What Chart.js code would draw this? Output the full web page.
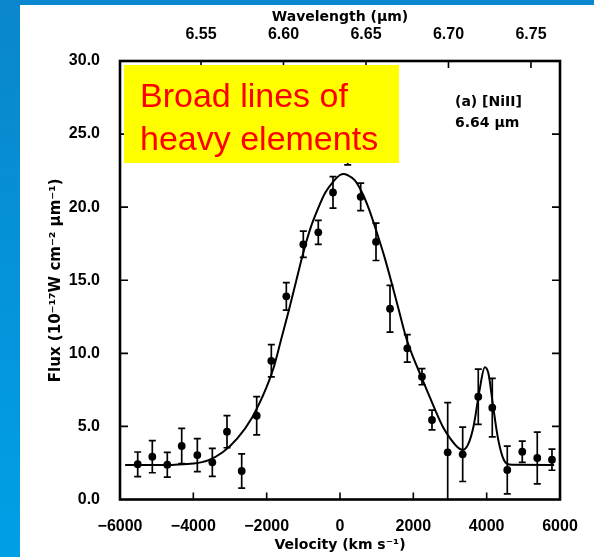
<!DOCTYPE html>
<html>
<head>
<meta charset="utf-8">
<script src="https://cdn.jsdelivr.net/npm/chart.js@4.4.1/dist/chart.umd.min.js"></script>
<style>
  html, body { margin: 0; padding: 0; background: #ffffff; }
  #chart { display: block; }
</style>
</head>
<body>
<canvas id="chart" width="594" height="557"></canvas>
<script>
// measured points: velocity (km/s), flux (1e-17 W cm-2 um-1), 1-sigma error
const velocity = [-5517, -5119, -4710, -4317, -3891, -3482, -3082, -2681, -2272, -1873,
                  -1464, -1001, -592, -191, 210, 564, 982, 1364, 1835, 2236,
                  2509, 2937, 3346, 3771, 4153, 4562, 4971, 5380, 5781];
const flux = [2.41, 2.93, 2.38, 3.66, 3.04, 2.54, 4.64, 1.95, 5.73, 9.49,
              13.90, 17.46, 18.28, 21.01, 24.0, 20.71, 17.63, 13.05, 10.34, 8.40,
              5.44, 3.23, 3.09, 7.03, 6.28, 2.02, 3.27, 2.84, 2.72];
const fluxErr = [0.84, 1.10, 0.85, 1.20, 1.13, 0.96, 1.10, 1.17, 1.31, 1.10,
                 0.94, 0.90, 0.82, 1.08, 1.10, 0.94, 1.28, 1.60, 0.94, 0.55,
                 0.68, 3.40, 1.86, 1.89, 2.00, 1.63, 0.73, 1.77, 0.72];

// fitted profile
const fitVelocity = [-5860, -5000, -4500, -4000, -3600, -3200, -2800, -2400, -2000, -1800,
                     -1600, -1400, -1200, -1000, -800, -600, -400, -200, 0, 100,
                     200, 400, 600, 800, 1000, 1200, 1400, 1600, 1800, 2000,
                     2200, 2400, 2600, 2800, 3000, 3200, 3350, 3500, 3650, 3800,
                     3950, 4050, 4175, 4300, 4430, 4550, 4700, 5840];
const fitFlux = [2.36, 2.36, 2.38, 2.46, 2.68, 3.23, 4.18, 5.6, 7.7, 9.1,
                 11.0, 12.9, 14.9, 16.9, 18.6, 19.9, 21.0, 21.7, 22.2, 22.27,
                 22.2, 21.85, 21.0, 19.8, 18.3, 16.7, 14.9, 13.0, 11.1, 9.7,
                 8.5, 7.3, 6.1, 5.0, 4.2, 3.6, 3.39, 3.8, 5.1, 7.4,
                 9.04, 8.6, 6.4, 4.3, 2.95, 2.45, 2.37, 2.36];

// axes
const velocityMin = -6000, velocityMax = 6000, velocityStep = 2000;
const fluxMin = 0, fluxMax = 30, fluxStep = 5;
const wavelengthMin = 6.5009, wavelengthMax = 6.7676;
const wavelengthTicks = [6.55, 6.60, 6.65, 6.70, 6.75];

const boxLines = ["Broad lines of", "heavy elements"];
const lineLabel = ["(a) [NiII]", "6.64 \u03bcm"];

const tickFont = { family: "'Liberation Sans', Arial, sans-serif", size: 16, weight: "bold" };
const titleFont = { family: "'DejaVu Sans', sans-serif", size: 14, weight: "bold" };

const background = {
    id: "background",
    beforeDraw(chart) {
        const ctx = chart.ctx;
        ctx.save();
        ctx.fillStyle = "#ffffff";
        ctx.fillRect(0, 0, chart.width, chart.height);
        ctx.fillStyle = "#0a87cf";
        ctx.fillRect(0, 0, chart.width, 5);
        const g = ctx.createLinearGradient(0, 0, 0, chart.height);
        g.addColorStop(0, "#0a86cc");
        g.addColorStop(1, "#00a0e6");
        ctx.fillStyle = g;
        ctx.fillRect(0, 0, 20, chart.height);
        ctx.restore();
    }
};

const errorBars = {
    id: "errorBars",
    beforeDatasetsDraw(chart) {
        const ctx = chart.ctx;
        const x = chart.scales.x, y = chart.scales.y;
        const a = chart.chartArea;
        ctx.save();
        ctx.beginPath();
        ctx.rect(a.left, a.top, a.right - a.left, a.bottom - a.top);
        ctx.clip();
        ctx.strokeStyle = "#000";
        ctx.lineWidth = 1.7;
        velocity.forEach((v, i) => {
            const px = x.getPixelForValue(v);
            const top = y.getPixelForValue(flux[i] + fluxErr[i]);
            const bot = y.getPixelForValue(flux[i] - fluxErr[i]);
            ctx.beginPath();
            ctx.moveTo(px, top); ctx.lineTo(px, bot);
            ctx.moveTo(px - 3.5, top); ctx.lineTo(px + 3.5, top);
            ctx.moveTo(px - 3.5, bot); ctx.lineTo(px + 3.5, bot);
            ctx.stroke();
        });
        ctx.restore();
    }
};

const frame = {
    id: "frame",
    afterDraw(chart) {
        const ctx = chart.ctx;
        const a = chart.chartArea;
        const x = chart.scales.x, x2 = chart.scales.x2, y = chart.scales.y;
        const len = 7;
        ctx.save();
        ctx.strokeStyle = "#000";
        ctx.lineWidth = 1.6;
        ctx.beginPath();
        x.ticks.forEach(t => {
            const p = x.getPixelForValue(t.value);
            if (t.value <= velocityMin || t.value >= velocityMax) return;
            ctx.moveTo(p, a.bottom); ctx.lineTo(p, a.bottom - len);
        });
        x2.ticks.forEach(t => {
            const p = x2.getPixelForValue(t.value);
            ctx.moveTo(p, a.top); ctx.lineTo(p, a.top + len);
        });
        y.ticks.forEach(t => {
            if (t.value <= fluxMin || t.value >= fluxMax) return;
            const p = y.getPixelForValue(t.value);
            ctx.moveTo(a.left, p); ctx.lineTo(a.left + len + 1, p);
            ctx.moveTo(a.right, p); ctx.lineTo(a.right - len - 1, p);
        });
        ctx.stroke();
        ctx.lineWidth = 2.6;
        ctx.strokeRect(a.left, a.top, a.right - a.left, a.bottom - a.top);

        // yellow label box
        const bx = a.left + 4, by = a.top + 4;
        ctx.fillStyle = "#ffff00";
        ctx.fillRect(bx, by, 275, 98);
        ctx.fillStyle = "#ff0000";
        ctx.font = "34px 'Liberation Sans', Arial, sans-serif";
        ctx.textBaseline = "alphabetic";
        ctx.textAlign = "left";
        ctx.fillText(boxLines[0], bx + 16, by + 41.5);
        ctx.fillText(boxLines[1], bx + 16, by + 85);

        // line identification
        ctx.fillStyle = "#000";
        ctx.font = "bold 14px 'DejaVu Sans', sans-serif";
        ctx.textBaseline = "middle";
        ctx.fillText(lineLabel[0], 455, 102);
        ctx.fillText(lineLabel[1], 455, 123);
        ctx.restore();
    }
};

new Chart(document.getElementById("chart"), {
    type: "scatter",
    data: {
        datasets: [
            {
                type: "line",
                label: "fit",
                data: fitVelocity.map((v, i) => ({ x: v, y: fitFlux[i] })),
                borderColor: "#000",
                borderWidth: 2,
                pointRadius: 0,
                fill: false,
                cubicInterpolationMode: "monotone"
            },
            {
                label: "data",
                data: velocity.map((v, i) => ({ x: v, y: flux[i] })),
                backgroundColor: "#000",
                borderColor: "#000",
                pointRadius: 3.9,
                borderWidth: 0
            }
        ]
    },
    options: {
        responsive: false,
        animation: false,
        events: [],
        layout: { padding: { left: 0, right: 34, top: 0, bottom: 0 } },
        plugins: { legend: { display: false }, tooltip: { enabled: false } },
        scales: {
            x: {
                type: "linear",
                position: "bottom",
                min: velocityMin,
                max: velocityMax,
                grid: { display: false },
                border: { display: false },
                ticks: {
                    stepSize: velocityStep,
                    padding: 9.9,
                    color: "#000",
                    font: tickFont,
                    callback: v => String(v).replace("-", "\u2212")
                },
                title: {
                    display: true,
                    text: "Velocity (km s\u207b\u00b9)",
                    color: "#000",
                    font: titleFont,
                    padding: { top: 0, bottom: 3.6 }
                },
                afterFit(s) { s.height = 57.5; }
            },
            x2: {
                type: "linear",
                position: "top",
                min: wavelengthMin,
                max: wavelengthMax,
                grid: { display: false },
                border: { display: false },
                afterBuildTicks(s) { s.ticks = wavelengthTicks.map(v => ({ value: v })); },
                ticks: {
                    padding: 8.4,
                    color: "#000",
                    font: tickFont,
                    callback: v => v.toFixed(2)
                },
                title: {
                    display: true,
                    text: "Wavelength (\u03bcm)",
                    color: "#000",
                    font: titleFont,
                    padding: { top: 8.6, bottom: 0 }
                },
                afterFit(s) { s.height = 61; }
            },
            y: {
                type: "linear",
                position: "left",
                min: fluxMin,
                max: fluxMax,
                grid: { display: false },
                border: { display: false },
                ticks: {
                    stepSize: fluxStep,
                    padding: 12,
                    color: "#000",
                    font: tickFont,
                    callback: v => v.toFixed(1)
                },
                title: {
                    display: true,
                    text: "Flux (10\u207b\u00b9\u2077W cm\u207b\u00b2 \u03bcm\u207b\u00b9)",
                    color: "#000",
                    font: { family: "'DejaVu Sans', sans-serif", size: 15, weight: "bold" },
                    padding: { top: 47.5, bottom: 0 }
                },
                afterFit(s) { s.width = 120; }
            }
        }
    },
    plugins: [background, errorBars, frame]
});
</script>
</body>
</html>
